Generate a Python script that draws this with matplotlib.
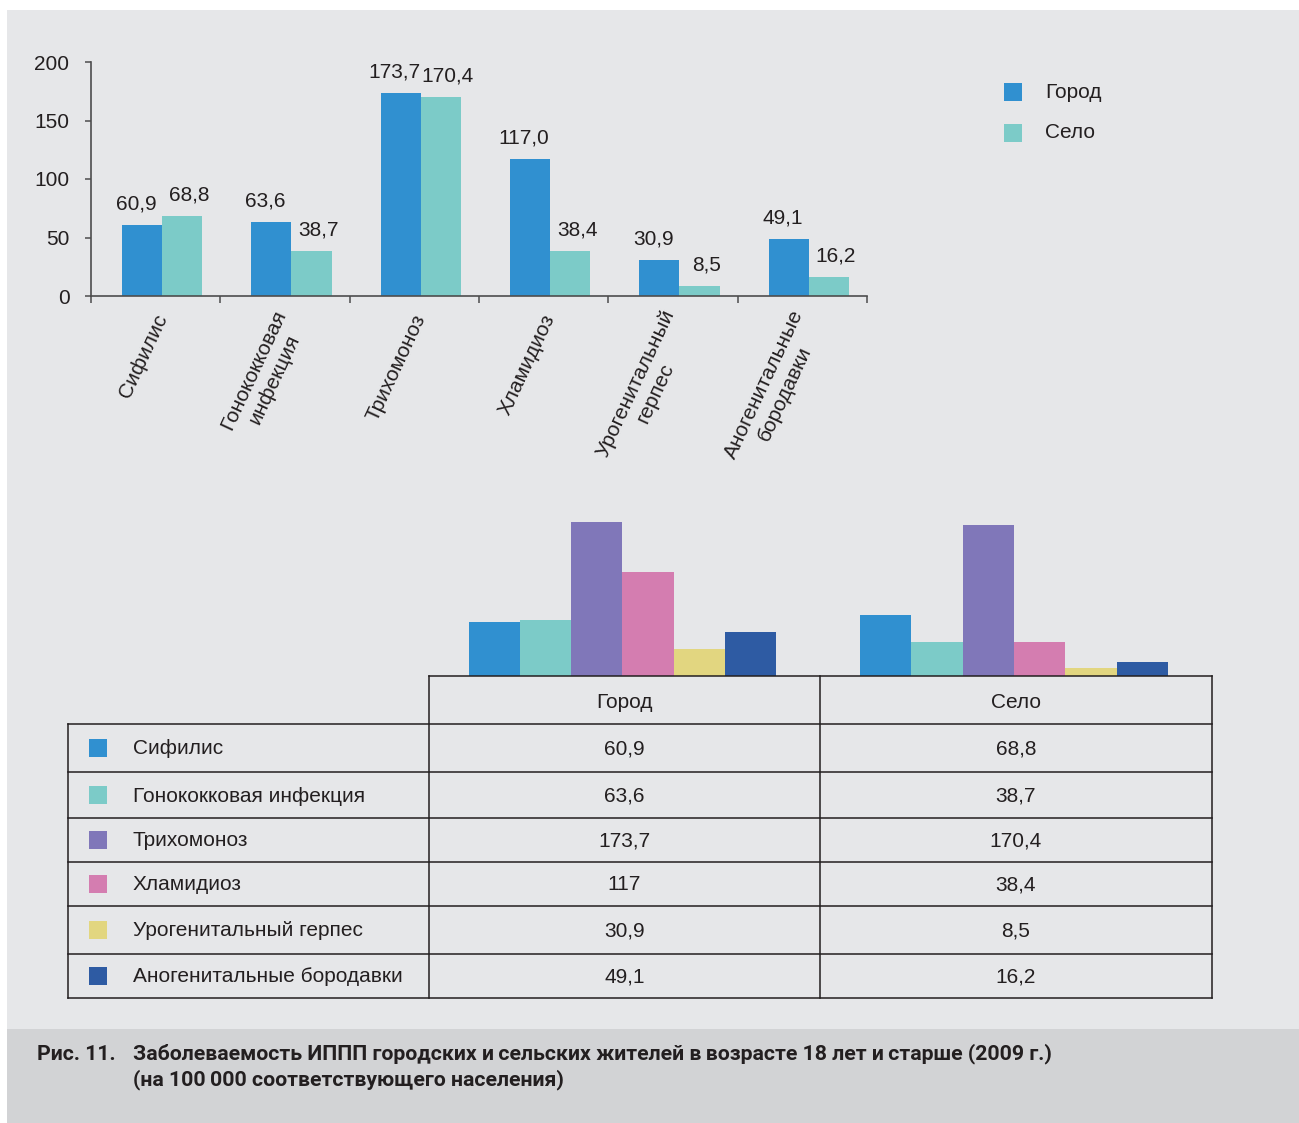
import numpy as np
import matplotlib
matplotlib.use('Agg')
import matplotlib.pyplot as plt
from matplotlib.patches import Rectangle
from matplotlib import font_manager

# incidence of STIs per 100 000, residents aged 18+, 2009
diseases = ['Сифилис', 'Гонококковая инфекция', 'Трихомоноз', 'Хламидиоз',
            'Урогенитальный герпес', 'Аногенитальные бородавки']
axis_labels = ['Сифилис', 'Гонококковая\nинфекция', 'Трихомоноз', 'Хламидиоз',
               'Урогенитальный\nгерпес', 'Аногенитальные\nбородавки']
groups = ['Город', 'Село']
city = [60.9, 63.6, 173.7, 117.0, 30.9, 49.1]
village = [68.8, 38.7, 170.4, 38.4, 8.5, 16.2]
y_ticks = [0, 50, 100, 150, 200]

group_colors = ['#3090d0', '#7ccbc8']
disease_colors = ['#3090d0', '#7ccbc8', '#8077b9', '#d47db0', '#e2d680', '#2e5ba3']
ink = '#231f20'
axis_col = '#4d4d4d'

plt.rcParams['font.family'] = ['Liberation Sans', 'DejaVu Sans']
plt.rcParams['text.color'] = ink

W, H = 1299, 1123
fig = plt.figure(figsize=(W / 100, H / 100), dpi=100)
fig.patch.set_facecolor('white')

# background panel and caption band (pixel coordinates)
bg = fig.add_axes([0, 0, 1, 1], zorder=0)
bg.set_xlim(0, W)
bg.set_ylim(H, 0)
bg.axis('off')
bg.add_patch(Rectangle((7, 10), W - 7, 1019, color='#e6e7e9', lw=0))
bg.add_patch(Rectangle((7, 1029), W - 7, H - 1029, color='#d2d3d5', lw=0))

# --- top grouped bar chart ---
ax = fig.add_axes([91 / W, 1 - 296 / H, (867 - 91) / W, (296 - 62) / H], zorder=1)
ax.set_facecolor('none')
x = np.arange(len(city)) + 0.05
bw = 0.31
bars_c = ax.bar(x - bw / 2, city, bw, color=group_colors[0], lw=0)
bars_v = ax.bar(x + bw / 2, village, bw, color=group_colors[1], lw=0)
# value labels: city ones pushed a bit left, village ones a bit right
for bars, vals, dx in [(bars_c, city, -4.5), (bars_v, village, 5)]:
    for rect, v in zip(bars, vals):
        ax.annotate(f'{v:.1f}'.replace('.', ','),
                    (rect.get_x() + rect.get_width() / 2, v),
                    xytext=(dx, 8), textcoords='offset points',
                    ha='center', va='bottom', fontsize=15)
ax.set_xlim(-0.5, len(city) - 0.5)
ax.set_ylim(0, 200)
for s in ['top', 'right']:
    ax.spines[s].set_visible(False)
for s in ['left', 'bottom']:
    ax.spines[s].set_color(axis_col)
    ax.spines[s].set_linewidth(1.2)
ax.set_yticks(y_ticks)
ax.tick_params(axis='y', length=4.5, width=1.1, color=axis_col, pad=11,
               labelsize=15, labelcolor=ink)
ax.set_xticks(x)
ax.set_xticklabels(axis_labels, rotation=65, ha='right', va='center',
                   rotation_mode='anchor', multialignment='center')
ax.tick_params(axis='x', which='major', length=0, pad=14, labelsize=15,
               labelcolor=ink)
ax.set_xticks(np.arange(len(city) + 1) - 0.5, minor=True)
ax.tick_params(axis='x', which='minor', length=5, width=1.1, color=axis_col)

# --- bottom chart sitting on the data table ---
ax2 = fig.add_axes([429 / W, 1 - 676 / H, 783 / W, 200 / H], zorder=1)
ax2.set_facecolor('none')
bw2 = 51.3 / 391.5
gx = np.arange(len(groups)) - 0.006
for k in range(len(diseases)):
    ax2.bar(gx + (k - 2.5) * bw2, [city[k], village[k]], bw2,
            color=disease_colors[k], lw=0)
ax2.set_xlim(-0.5, 1.5)
ax2.set_ylim(0, 200 / 0.887)
ax2.axis('off')

# overlay for legend, table and caption
ov = fig.add_axes([0, 0, 1, 1], zorder=2)
ov.set_facecolor('none')
ov.set_xlim(0, W)
ov.set_ylim(H, 0)
ov.axis('off')

# legend of the top chart
for k, (name, c) in enumerate(zip(groups, group_colors)):
    yc = 92 + 41 * k
    ov.add_patch(Rectangle((1004, yc - 9), 18, 18, color=c, lw=0))
    ov.text(1045, yc, name, va='center', ha='left', fontsize=15)

# table grid
lw_t = 1.1
row_edges = [724, 772, 818, 862, 906, 954, 998]
col_centers = [624.5, 1016]
ov.plot([429, 1212], [676, 676], color=ink, lw=lw_t)
for yv in row_edges:
    ov.plot([68, 1212], [yv, yv], color=ink, lw=lw_t)
ov.plot([68, 68], [724, 998], color=ink, lw=lw_t)
for xv in [429, 820, 1212]:
    ov.plot([xv, xv], [676, 998], color=ink, lw=lw_t)

for name, cx in zip(groups, col_centers):
    ov.text(cx, 702, name, ha='center', va='center', fontsize=15)

def table_fmt(v):
    return ('%g' % v).replace('.', ',')

for k, name in enumerate(diseases):
    yc = (row_edges[k] + row_edges[k + 1]) / 2
    ov.add_patch(Rectangle((89, yc - 9), 18, 18, color=disease_colors[k], lw=0))
    ov.text(133, yc + 1, name, ha='left', va='center', fontsize=15)
    ov.text(col_centers[0], yc + 1, table_fmt(city[k]), ha='center', va='center', fontsize=15)
    ov.text(col_centers[1], yc + 1, table_fmt(village[k]), ha='center', va='center', fontsize=15)

# caption in a narrow bold face
names = {f.name for f in font_manager.fontManager.ttflist}
cap_font = 'Liberation Sans Narrow' if 'Liberation Sans Narrow' in names else 'Roboto'
cap_kw = dict(fontweight='bold', family=[cap_font, 'DejaVu Sans'], stretch='condensed',
              va='center', ha='left', fontsize=14)
t0 = ov.text(37, 1054, 'Рис. 11.', **cap_kw)
t1 = ov.text(133, 1054, 'Заболеваемость ИППП городских и\u2009сельских жителей '
             'в\u2009возрасте 18 лет и\u2009старше (2009 г.)', **cap_kw)
t2 = ov.text(133, 1080, '(на 100\u2009000 соответствующего населения)', **cap_kw)
fig.canvas.draw()
size = 14 * 922 / t1.get_window_extent().width
for t in (t0, t1, t2):
    t.set_fontsize(size)

fig.savefig('out.png', dpi=100)
